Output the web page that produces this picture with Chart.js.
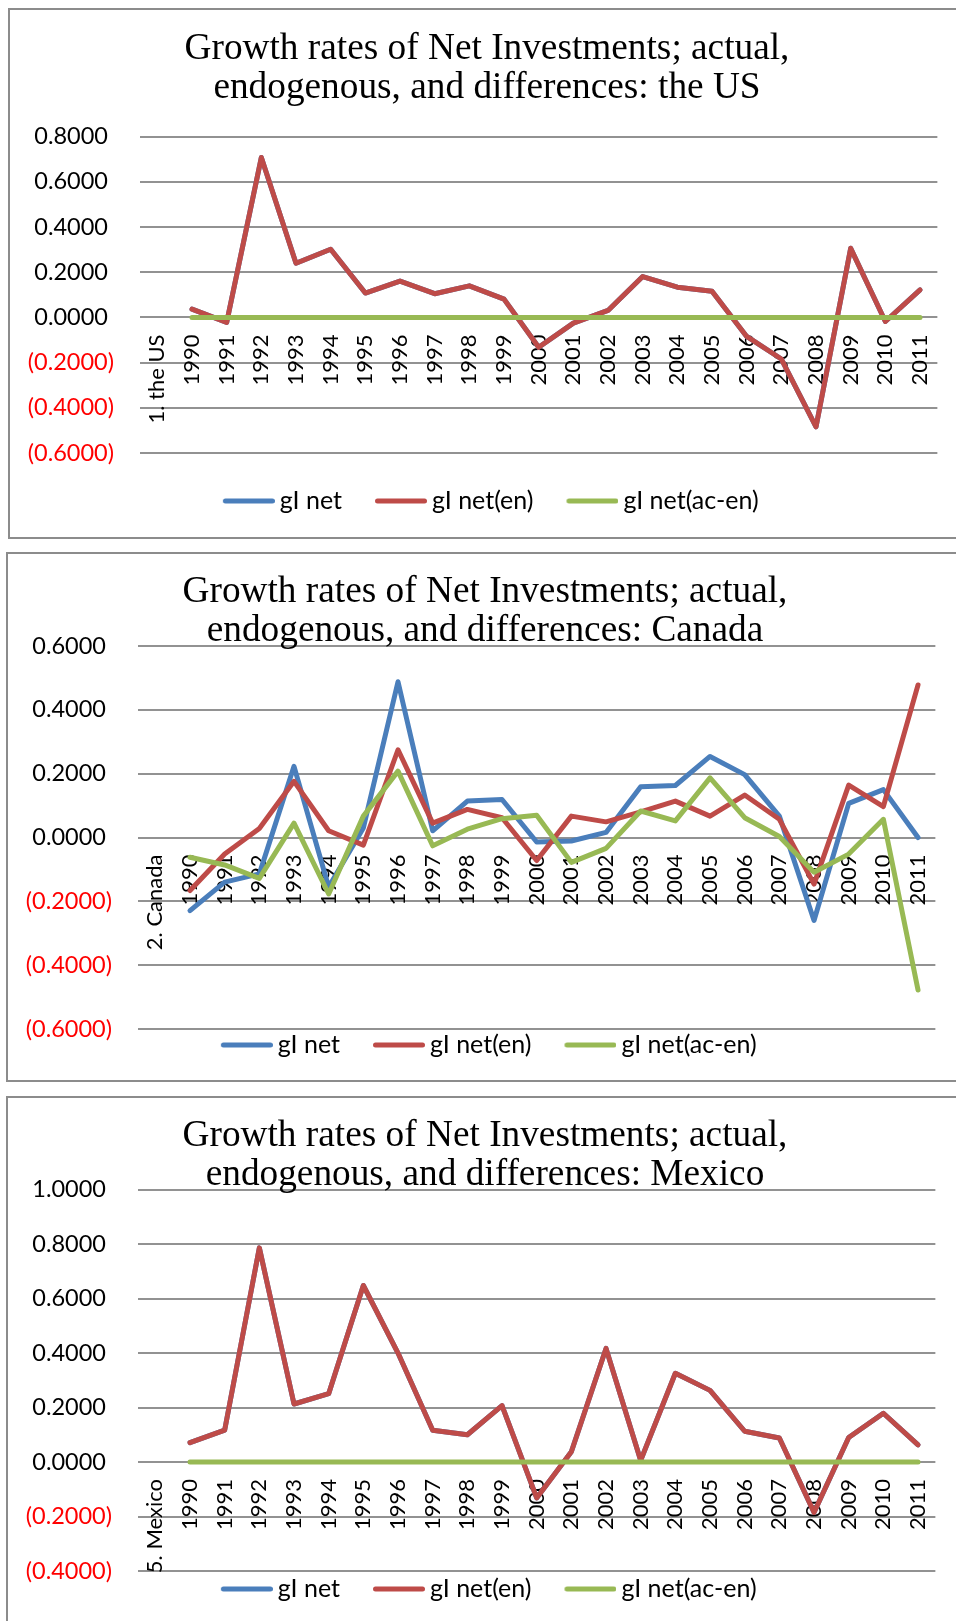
<!DOCTYPE html>
<html>
<head>
<meta charset="utf-8">
<script src="https://cdn.jsdelivr.net/npm/chart.js@4.4.1/dist/chart.umd.min.js"></script>
<style>
  html, body { margin: 0; background: #fff; overflow: hidden; }
  .panel { position: absolute; box-sizing: border-box; border: 2px solid #8c8c8c; background: #fff; }
  .panel canvas { display: block; }
</style>
</head>
<body>
<div class="panel" style="left:8px; top:8px; width:960px; height:531px"><canvas id="us-chart" width="954" height="527"></canvas></div>
<div class="panel" style="left:6px; top:552px; width:960px; height:530px"><canvas id="canada-chart" width="954" height="526"></canvas></div>
<div class="panel" style="left:6px; top:1096px; width:960px; height:540px"><canvas id="mexico-chart" width="954" height="527"></canvas></div>
<script>
const years = ['1990', '1991', '1992', '1993', '1994', '1995', '1996', '1997', '1998', '1999', '2000',
	'2001', '2002', '2003', '2004', '2005', '2006', '2007', '2008', '2009', '2010', '2011'];
const seriesNames = ['gI net', 'gI net(en)', 'gI net(ac-en)'];
const seriesColors = ['#4a7ebb', '#be4b48', '#98b954'];

// the US
const usNet = [0.037, -0.022, 0.708, 0.240, 0.302, 0.108, 0.161, 0.105, 0.140, 0.081, -0.132,
	-0.025, 0.031, 0.181, 0.134, 0.116, -0.084, -0.184, -0.484, 0.306, -0.018, 0.122];
const usNetEn = [0.037, -0.022, 0.708, 0.240, 0.302, 0.108, 0.161, 0.105, 0.140, 0.081, -0.132,
	-0.025, 0.031, 0.181, 0.134, 0.116, -0.084, -0.184, -0.484, 0.306, -0.018, 0.122];
const usNetAcEn = [0, 0, 0, 0, 0, 0, 0, 0, 0, 0, 0, 0, 0, 0, 0, 0, 0, 0, 0, 0, 0, 0];
const usRange = [-0.6, 0.8];

// Canada
const caNet = [-0.229, -0.140, -0.114, 0.223, -0.155, 0.030, 0.488, 0.021, 0.114, 0.119, -0.014,
	-0.011, 0.016, 0.159, 0.163, 0.254, 0.197, 0.067, -0.260, 0.107, 0.150, 0.000];
const caNetEn = [-0.166, -0.052, 0.028, 0.176, 0.021, -0.024, 0.275, 0.045, 0.088, 0.062, -0.072,
	0.067, 0.049, 0.080, 0.114, 0.067, 0.133, 0.057, -0.146, 0.164, 0.097, 0.478];
const caNetAcEn = [-0.062, -0.086, -0.128, 0.045, -0.177, 0.067, 0.208, -0.026, 0.026, 0.059, 0.070,
	-0.078, -0.034, 0.083, 0.052, 0.187, 0.062, 0.003, -0.109, -0.052, 0.057, -0.478];
const caRange = [-0.6, 0.6];

// Mexico
const mxNet = [0.071, 0.117, 0.786, 0.213, 0.251, 0.648, 0.400, 0.117, 0.100, 0.207, -0.132,
	0.038, 0.417, 0.006, 0.326, 0.263, 0.113, 0.088, -0.185, 0.090, 0.179, 0.063];
const mxNetEn = [0.071, 0.117, 0.786, 0.213, 0.251, 0.648, 0.400, 0.117, 0.100, 0.207, -0.132,
	0.038, 0.417, 0.006, 0.326, 0.263, 0.113, 0.088, -0.185, 0.090, 0.179, 0.063];
const mxNetAcEn = [0, 0, 0, 0, 0, 0, 0, 0, 0, 0, 0, 0, 0, 0, 0, 0, 0, 0, 0, 0, 0, 0];
const mxRange = [-0.4, 1.0];

Chart.defaults.font.family = 'Lato';

const TITLE_LINE = 39;
const LEGEND_FONT = 25;

// legend takes no room in the layout; it is pinned at options.plugins.pinLegend.y
const pinLegend = {
	id: 'pinLegend',
	beforeLayout(chart) {
		const legend = chart.legend;
		if (!legend || legend.pinned) return;
		const fit = legend.fit;
		legend.fit = function () {
			fit.call(this);
			this.height = 0;
		};
		legend.pinned = true;
	},
	afterLayout(chart, args, opts) {
		const legend = chart.legend;
		const pad = legend.options.labels.padding;
		legend.top = opts.y - LEGEND_FONT / 2 - pad;
		legend.bottom = legend.top + LEGEND_FONT + pad * 2;
	},
};

// legend swatch: short thick line, pushed to the right so it sits close to its text
function legendSwatch(color) {
	const c = document.createElement('canvas');
	c.width = 67;
	c.height = 8;
	const g = c.getContext('2d');
	g.strokeStyle = color;
	g.lineWidth = 5;
	g.lineCap = 'round';
	g.beginPath();
	g.moveTo(17.5, 4);
	g.lineTo(64.5, 4);
	g.stroke();
	return c;
}

// Excel style number format: 0.0000 and (0.0000) for negatives
const fmt = (v) => {
	if (Math.abs(v) < 1e-9) v = 0; // float noise from the tick steps
	return v < 0 ? '(' + Math.abs(v).toFixed(4) + ')' : v.toFixed(4) + ' ';
};

function drawPanel(id, title, axisName, series, range, frame) {
	const canvas = document.getElementById(id);
	const titleTop = frame.titleY - TITLE_LINE / 2;
	return new Chart(canvas, {
		type: 'line',
		data: {
			labels: [axisName, ...years],
			datasets: series.map((values, i) => ({
				label: seriesNames[i],
				data: [null, ...values],
				borderColor: seriesColors[i],
				backgroundColor: seriesColors[i],
				borderWidth: 5,
				borderCapStyle: 'round',
				borderJoinStyle: 'round',
				pointRadius: 0,
				pointHoverRadius: 0,
				pointStyle: legendSwatch(seriesColors[i]),
				tension: 0,
				order: series.length - 1 - i, // later series on top
			})),
		},
		options: {
			responsive: false,
			animation: false,
			devicePixelRatio: 1,
			layout: {
				padding: { left: 0, right: 0, top: 0, bottom: canvas.height - frame.plotBottom },
			},
			scales: {
				x: {
					position: { y: 0 },
					offset: true,
					grid: { display: false, drawTicks: false },
					border: { display: false },
					ticks: {
						autoSkip: false,
						minRotation: 90,
						maxRotation: 90,
						padding: 17,
						color: '#000',
						font: { size: 22 },
					},
				},
				y: {
					min: range[0],
					max: range[1],
					afterFit: (scale) => {
						scale.width = 130;
					},
					grid: { color: '#929292', lineWidth: 2, drawTicks: false },
					border: { display: false },
					ticks: {
						stepSize: 0.2,
						padding: 26,
						font: { size: 23.5 },
						color: (ctx) => (ctx.tick.value < -1e-9 ? '#ff0000' : '#000'),
						callback: fmt,
					},
				},
				// empty margin on the right of the plot
				yRight: {
					position: 'right',
					grid: { display: false, drawTicks: false },
					border: { display: false },
					ticks: { display: false },
					afterFit: (scale) => {
						scale.width = 26;
					},
				},
			},
			plugins: {
				title: {
					display: true,
					text: title,
					color: '#000',
					font: { family: 'Liberation Serif', size: 37.3, weight: 'normal', lineHeight: TITLE_LINE + 'px' },
					padding: { top: titleTop, bottom: frame.plotTop - titleTop - 2 * TITLE_LINE },
				},
				legend: {
					position: 'bottom',
					labels: {
						usePointStyle: true,
						pointStyleWidth: 52,
						padding: 25.5,
						color: '#000',
						font: { size: LEGEND_FONT },
						sort: (a, b) => a.datasetIndex - b.datasetIndex,
					},
				},
				tooltip: { enabled: false },
				pinLegend: { y: frame.legendY },
			},
		},
		plugins: [pinLegend],
	});
}

drawPanel('us-chart',
	['Growth rates of Net Investments; actual,', 'endogenous, and differences: the US'],
	'1. the US', [usNet, usNetEn, usNetAcEn], usRange,
	{ titleY: 39.6, plotTop: 126.7, plotBottom: 443, legendY: 491 });

drawPanel('canada-chart',
	['Growth rates of Net Investments; actual,', 'endogenous, and differences: Canada'],
	'2. Canada', [caNet, caNetEn, caNetAcEn], caRange,
	{ titleY: 38, plotTop: 92, plotBottom: 475, legendY: 491 });

drawPanel('mexico-chart',
	['Growth rates of Net Investments; actual,', 'endogenous, and differences: Mexico'],
	'5. Mexico', [mxNet, mxNetEn, mxNetAcEn], mxRange,
	{ titleY: 38, plotTop: 91.6, plotBottom: 473, legendY: 491 });
</script>
</body>
</html>
